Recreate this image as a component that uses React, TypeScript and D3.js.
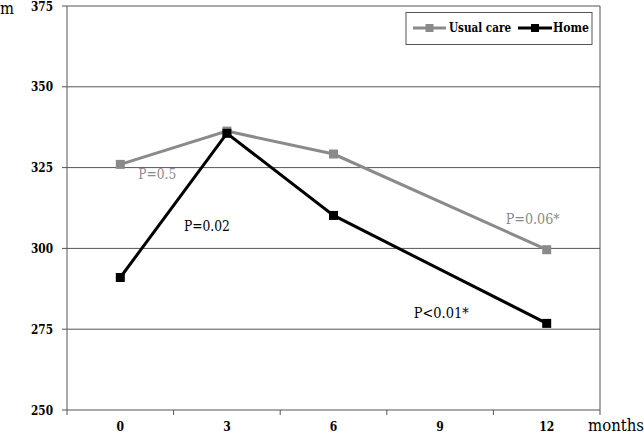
import React from "react";
import * as d3 from "d3";

const months = ["0", "3", "6", "9", "12"];
const usualCare: [string, number][] = [["0", 326], ["3", 336.3], ["6", 329.2], ["12", 299.6]];
const home: [string, number][] = [["0", 291], ["3", 335.6], ["6", 310.2], ["12", 276.8]];
const yTicks = [250, 275, 300, 325, 350, 375];
const annotations = [
  { text: "P=0.5", month: "0", value: 321.5, dx: 18, color: "#8a8a8a", len: 38 },
  { text: "P=0.02", month: "3", value: 305.5, dx: -43, color: "#000", len: 46 },
  { text: "P=0.06*", month: "12", value: 307.5, dx: -41, color: "#8a8a8a", len: 54 },
  { text: "P<0.01*", month: "12", value: 278.5, dx: -133, color: "#000", len: 55 },
];

const W = 644, H = 435;
const L = 67, R = 600, T = 6, B = 410;
const GRAY = "#8a8a8a";

export default function App() {
  const x = d3.scaleBand<string>().domain(months).range([L, R]);
  const y = d3.scaleLinear().domain([250, 375]).range([B, T]);
  const cx = (m: string) => (x(m) as number) + x.bandwidth() / 2;
  const line = d3.line<[string, number]>().x(d => cx(d[0])).y(d => y(d[1]));
  const serif = "'DejaVu Serif Condensed', 'DejaVu Serif', serif";
  const fit = { lengthAdjust: "spacingAndGlyphs" as const };

  const series = [
    { data: usualCare, color: GRAY },
    { data: home, color: "#000" },
  ];

  return (
    <svg width={W} height={H} style={{ position: "absolute", left: 0, top: 0, fontFamily: serif }}>
      <rect x={0} y={0} width={W} height={H} fill="#fff" />
      {yTicks.map(t => (
        <g key={t}>
          <line x1={L - 5} x2={R} y1={y(t)} y2={y(t)} stroke="#555" strokeWidth={1} />
          <text x={53} y={y(t) + 4.5} textAnchor="end" fontSize={13} fontWeight="bold" textLength={22} {...fit}>{t}</text>
        </g>
      ))}
      <line x1={L} x2={L} y1={T} y2={B} stroke="#555" />
      <line x1={R} x2={R} y1={T} y2={B} stroke="#555" />
      {months.map((m, i) => (
        <g key={m}>
          <line x1={(x(m) as number) + x.bandwidth()} x2={(x(m) as number) + x.bandwidth()} y1={B} y2={B + 5} stroke="#555" />
          {i === 0 && <line x1={L} x2={L} y1={B} y2={B + 5} stroke="#555" />}
          <text x={cx(m)} y={B + 21} textAnchor="middle" fontSize={13} fontWeight="bold" textLength={m.length * 7.5} {...fit}>{m}</text>
        </g>
      ))}
      <text x={0} y={14} fontSize={16} textLength={14} {...fit}>m</text>
      <text x={588} y={431} fontSize={16} textLength={56} {...fit}>months</text>
      {series.map((s, i) => (
        <g key={i}>
          <path d={line(s.data) || ""} fill="none" stroke={s.color} strokeWidth={3} />
          {s.data.map((d, j) => (
            <rect key={j} x={cx(d[0]) - 4.5} y={y(d[1]) - 4.5} width={9} height={9} fill={s.color} />
          ))}
        </g>
      ))}
      {annotations.map((a, i) => (
        <text key={i} x={cx(a.month) + a.dx} y={y(a.value)} fontSize={14} fill={a.color} textLength={a.len} {...fit}>{a.text}</text>
      ))}
      <g>
        <rect x={406} y={12.5} width={186} height={32} fill="#fff" stroke="#555" strokeWidth={1} />
        <line x1={413} x2={446} y1={28} y2={28} stroke={GRAY} strokeWidth={3} />
        <rect x={425.5} y={24} width={8} height={8} fill={GRAY} />
        <text x={449} y={32} fontSize={13} fontWeight="bold" textLength={62} {...fit}>Usual care</text>
        <line x1={518} x2={552} y1={28} y2={28} stroke="#000" strokeWidth={3} />
        <rect x={531} y={24} width={8} height={8} fill="#000" />
        <text x={553} y={32} fontSize={13} fontWeight="bold" textLength={36} {...fit}>Home</text>
      </g>
    </svg>
  );
}
